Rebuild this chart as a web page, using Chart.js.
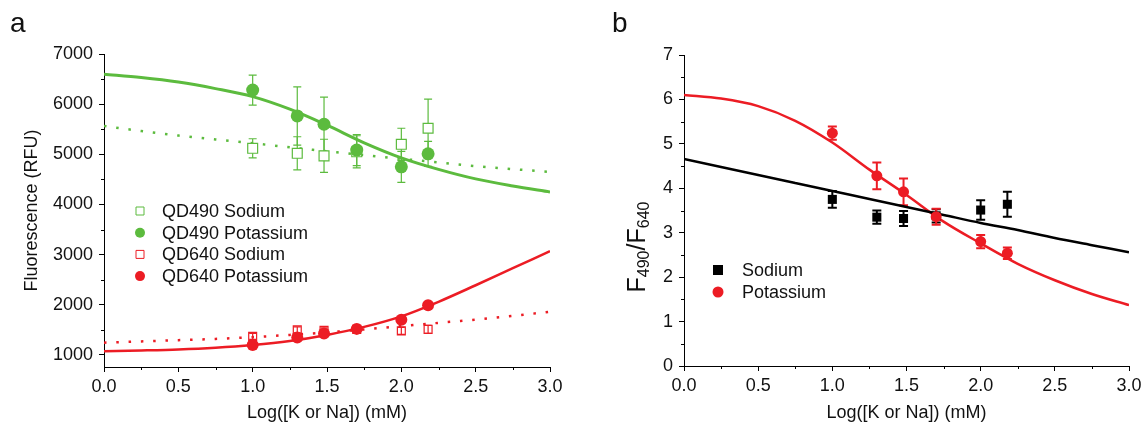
<!DOCTYPE html>
<html>
<head>
<meta charset="utf-8">
<script src="https://cdn.jsdelivr.net/npm/chart.js@4.4.1/dist/chart.umd.min.js"></script>
<style>
  html, body { margin: 0; padding: 0; background: #fff; }
  #wrap { position: relative; width: 1146px; height: 425px; overflow: hidden;
          font-family: "Liberation Sans", Arial, sans-serif; color: #111; }
  canvas { position: absolute; top: 0; }
  #chartA { left: 0; }
  #chartB { left: 575px; }
  .panel { position: absolute; font-size: 28px; line-height: 1; top: 9px; }
  #ratioTitle { position: absolute; left: 636px; top: 247px; white-space: nowrap; line-height: 1;
                font-size: 25px; transform: translate(-50%, -50%) rotate(-90deg); }
  #ratioTitle sub { font-size: 16px; vertical-align: -0.3em; line-height: 0; }
</style>
</head>
<body>
<div id="wrap">
  <canvas id="chartA" width="575" height="425"></canvas>
  <canvas id="chartB" width="571" height="425"></canvas>
  <div class="panel" style="left:10px">a</div>
  <div class="panel" style="left:612px">b</div>
  <div id="ratioTitle">F<sub>490</sub>/F<sub>640</sub></div>
</div>
<script>
// ---- measured concentrations, log10(mM) ----
const concX = [1.0, 1.3, 1.48, 1.7, 2.0, 2.18];

// ---- panel a: fluorescence (RFU) ----
const qd490Na     = [5120, 5020, 4970, 5050, 5200, 5520];
const qd490NaErr  = [190, 330, 330, 320, 320, 580];
const qd490K      = [6280, 5765, 5600, 5085, 4750, 5010];
const qd490KErr   = [300, 580, 540, 310, 310, 250];
const qd640Na     = [1370, 1500, 1490, 1510, 1480, 1510];
const qd640NaErr  = [60, 60, 50, 50, 70, 80];
const qd640K      = [1200, 1350, 1430, 1520, 1700, 1990];
const qd640KErr   = [40, 50, 50, 40, 60, 40];

// fitted curves for panel a
const fitX       = [0, 0.25, 0.5, 0.75, 1.0, 1.25, 1.5, 1.75, 2.0, 2.25, 2.5, 2.75, 3.0];
const fit490K    = [6595, 6530, 6440, 6310, 6150, 5900, 5580, 5230, 4930, 4700, 4510, 4370, 4250];
const fit490Na   = [5565, 5465, 5375, 5295, 5220, 5140, 5060, 4985, 4910, 4840, 4765, 4705, 4650];
const fit640K    = [1075, 1090, 1110, 1145, 1200, 1280, 1400, 1560, 1770, 2060, 2390, 2730, 3070];
const fit640Na   = [1245, 1270, 1295, 1320, 1355, 1400, 1450, 1510, 1575, 1640, 1705, 1780, 1860];

// ---- panel b: ratio F490/F640 ----
const ratioNa     = [3.75, 3.35, 3.32, 3.38, 3.51, 3.64];
const ratioNaErr  = [0.19, 0.15, 0.17, 0.15, 0.22, 0.28];
const ratioK      = [5.24, 4.28, 3.92, 3.36, 2.80, 2.54];
const ratioKErr   = [0.15, 0.30, 0.30, 0.18, 0.15, 0.13];
const fitRatioNa  = [4.66, 4.48, 4.30, 4.12, 3.94, 3.76, 3.58, 3.40, 3.22, 3.06, 2.88, 2.72, 2.56];
const fitRatioK   = [6.10, 6.02, 5.85, 5.52, 5.03, 4.42, 3.85, 3.25, 2.76, 2.30, 1.93, 1.62, 1.37];

// ---- axis ticks ----
const xTicks  = [0, 0.5, 1.0, 1.5, 2.0, 2.5, 3.0];
const xMinor  = [0.25, 0.75, 1.25, 1.75, 2.25, 2.75];
const yTicksA = [1000, 2000, 3000, 4000, 5000, 6000, 7000];
const yMinorA = [1500, 2500, 3500, 4500, 5500, 6500];
const yTicksB = [0, 1, 2, 3, 4, 5, 6, 7];
const yMinorB = [0.5, 1.5, 2.5, 3.5, 4.5, 5.5, 6.5];

const GREEN = '#5cbb3e';
const RED   = '#ec1c24';
const BLACK = '#000000';
const FONT  = '"Liberation Sans", Arial, sans-serif';
const TXT   = '#111111';

const pts = (xs, ys) => xs.map((x, i) => ({ x: x, y: ys[i] }));

function drawMarker(ctx, m, x, y) {
  ctx.beginPath();
  if (m.style === 'rect') ctx.rect(x - m.size / 2, y - m.size / 2, m.size, m.size);
  else ctx.arc(x, y, m.size / 2, 0, Math.PI * 2);
  if (m.fill) { ctx.fillStyle = m.fill; ctx.fill(); }
  if (m.stroke) { ctx.strokeStyle = m.stroke; ctx.lineWidth = m.lw || 1; ctx.stroke(); }
}

// vertical error bars with caps, drawn beneath the markers
const errorBars = {
  id: 'errorBars',
  beforeDatasetsDraw(chart) {
    const ctx = chart.ctx, xs = chart.scales.x, ys = chart.scales.y;
    ctx.save();
    chart.data.datasets.forEach(ds => {
      if (!ds.errors) return;
      ctx.strokeStyle = ds.errColor;
      ctx.lineWidth = ds.errWidth;
      ds.data.forEach((p, i) => {
        const e = ds.errors[i];
        const px = xs.getPixelForValue(p.x);
        const top = ys.getPixelForValue(p.y + e);
        const bot = ys.getPixelForValue(p.y - e);
        const c = ds.errCap;
        ctx.beginPath();
        ctx.moveTo(px, top); ctx.lineTo(px, bot);
        ctx.moveTo(px - c, top); ctx.lineTo(px + c, top);
        ctx.moveTo(px - c, bot); ctx.lineTo(px + c, bot);
        ctx.stroke();
      });
    });
    ctx.restore();
  }
};

// short minor tick marks on both axes
const minorTicks = {
  id: 'minorTicks',
  afterDraw(chart, args, opts) {
    const ctx = chart.ctx, xs = chart.scales.x, ys = chart.scales.y, a = chart.chartArea;
    ctx.save();
    ctx.strokeStyle = '#000'; ctx.lineWidth = 1;
    ctx.beginPath();
    opts.x.forEach(v => {
      const px = Math.round(xs.getPixelForValue(v)) + 0.5;
      ctx.moveTo(px, a.bottom); ctx.lineTo(px, a.bottom + opts.len);
    });
    opts.y.forEach(v => {
      const py = Math.round(ys.getPixelForValue(v)) + 0.5;
      ctx.moveTo(a.left, py); ctx.lineTo(a.left - opts.len, py);
    });
    ctx.stroke();
    ctx.restore();
  }
};

// legend placed inside the plot area
const panelLegend = {
  id: 'panelLegend',
  afterDraw(chart, args, opts) {
    const ctx = chart.ctx;
    ctx.save();
    ctx.font = opts.font;
    ctx.textBaseline = 'middle';
    let y = opts.y;
    chart.data.datasets.forEach(ds => {
      if (!ds.legendMarker) return;
      drawMarker(ctx, ds.legendMarker, opts.markerX, y);
      ctx.fillStyle = TXT;
      ctx.fillText(ds.label, opts.textX, y + 1);
      y += opts.step;
    });
    ctx.restore();
  }
};

function xScale(height) {
  return {
    type: 'linear', min: 0, max: 3,
    afterBuildTicks: s => { s.ticks = xTicks.map(v => ({ value: v })); },
    afterFit: s => { s.height = height; },
    ticks: { font: { family: FONT, size: 18 }, color: TXT, padding: 4, maxRotation: 0,
             callback: v => Number(v).toFixed(1) },
    grid: { drawOnChartArea: false, tickLength: 5, color: '#000', lineWidth: 1 },
    border: { color: '#000', width: 1 },
    title: { display: true, text: 'Log([K or Na]) (mM)', font: { family: FONT, size: 18 },
             color: TXT, padding: { top: 0, bottom: 1 } }
  };
}

function yScale(min, max, ticks, width, title) {
  return {
    type: 'linear', min: min, max: max,
    afterBuildTicks: s => { s.ticks = ticks.map(v => ({ value: v })); },
    afterFit: s => { s.width = width; },
    ticks: { font: { family: FONT, size: 18 }, color: TXT, padding: 6, callback: v => String(v) },
    grid: { drawOnChartArea: false, tickLength: 5, color: '#000', lineWidth: 1 },
    border: { color: '#000', width: 1 },
    title: title
  };
}

function curve(xs, ys, color, width, dash) {
  return {
    data: pts(xs, ys), showLine: true, pointRadius: 0, borderColor: color, borderWidth: width,
    borderDash: dash || [], cubicInterpolationMode: 'monotone', fill: false, order: 5
  };
}

const common = {
  responsive: false, animation: false, devicePixelRatio: 1, events: [],
  plugins: { legend: { display: false }, tooltip: { enabled: false } }
};

// ---- panel a ----
new Chart(document.getElementById('chartA'), {
  type: 'scatter',
  data: {
    datasets: [
      { label: 'QD490 Sodium', data: pts(concX, qd490Na), errors: qd490NaErr,
        errColor: GREEN, errWidth: 1.2, errCap: 4, order: 2,
        pointStyle: 'rect', pointRadius: 7, pointBorderWidth: 1.2,
        pointBorderColor: GREEN, pointBackgroundColor: '#ffffff',
        legendMarker: { style: 'rect', size: 8, stroke: GREEN, fill: '#fff', lw: 1 } },
      { label: 'QD490 Potassium', data: pts(concX, qd490K), errors: qd490KErr,
        errColor: GREEN, errWidth: 1.2, errCap: 4, order: 1,
        pointStyle: 'circle', pointRadius: 6.5, pointBorderWidth: 0,
        pointBackgroundColor: GREEN, pointBorderColor: GREEN,
        legendMarker: { style: 'circle', size: 10, fill: GREEN } },
      { label: 'QD640 Sodium', data: pts(concX, qd640Na), errors: qd640NaErr,
        errColor: RED, errWidth: 1.2, errCap: 3.5, order: 2,
        pointStyle: 'rect', pointRadius: 5.6, pointBorderWidth: 1.2,
        pointBorderColor: RED, pointBackgroundColor: 'rgba(255,255,255,0)',
        legendMarker: { style: 'rect', size: 8, stroke: RED, fill: '#fff', lw: 1 } },
      { label: 'QD640 Potassium', data: pts(concX, qd640K), errors: qd640KErr,
        errColor: RED, errWidth: 1.2, errCap: 3.5, order: 1,
        pointStyle: 'circle', pointRadius: 6, pointBorderWidth: 0,
        pointBackgroundColor: RED, pointBorderColor: RED,
        legendMarker: { style: 'circle', size: 10, fill: RED } },
      curve(fitX, fit490K, GREEN, 3),
      curve(fitX, fit490Na, GREEN, 2.5, [2.5, 9.8]),
      curve(fitX, fit640K, RED, 2.5),
      curve(fitX, fit640Na, RED, 2.5, [2.5, 9.8])
    ]
  },
  options: Object.assign({}, common, {
    layout: { padding: { left: 0, top: 54, right: 25, bottom: 0 } },
    scales: {
      x: xScale(58),
      y: yScale(760, 7000, yTicksA, 104,
        { display: true, text: 'Fluorescence (RFU)', font: { family: FONT, size: 18 },
          color: TXT, padding: { top: 21, bottom: 0 } })
    },
    plugins: Object.assign({}, common.plugins, {
      minorTicks: { x: xMinor, y: yMinorA, len: 3 },
      panelLegend: { markerX: 140, textX: 162, y: 211, step: 21.7, font: '18px ' + FONT }
    })
  }),
  plugins: [errorBars, minorTicks, panelLegend]
});

// ---- panel b ----
new Chart(document.getElementById('chartB'), {
  type: 'scatter',
  data: {
    datasets: [
      { label: 'Sodium', data: pts(concX, ratioNa), errors: ratioNaErr,
        errColor: BLACK, errWidth: 2, errCap: 4.5, order: 2,
        pointStyle: 'rect', pointRadius: 6.4, pointBorderWidth: 0,
        pointBackgroundColor: BLACK, pointBorderColor: BLACK,
        legendMarker: { style: 'rect', size: 10, fill: BLACK } },
      { label: 'Potassium', data: pts(concX, ratioK), errors: ratioKErr,
        errColor: RED, errWidth: 2, errCap: 4.5, order: 1,
        pointStyle: 'circle', pointRadius: 5.5, pointBorderWidth: 0,
        pointBackgroundColor: RED, pointBorderColor: RED,
        legendMarker: { style: 'circle', size: 11, fill: RED } },
      curve(fitX, fitRatioNa, BLACK, 2.5),
      curve(fitX, fitRatioK, RED, 2.5)
    ]
  },
  options: Object.assign({}, common, {
    layout: { padding: { left: 0, top: 55, right: 17, bottom: 0 } },
    scales: {
      x: xScale(59),
      y: yScale(0, 7, yTicksB, 109, { display: false })
    },
    plugins: Object.assign({}, common.plugins, {
      minorTicks: { x: xMinor, y: yMinorB, len: 3 },
      panelLegend: { markerX: 143, textX: 167, y: 270, step: 22, font: '18px ' + FONT }
    })
  }),
  plugins: [errorBars, minorTicks, panelLegend]
});
</script>
</body>
</html>
